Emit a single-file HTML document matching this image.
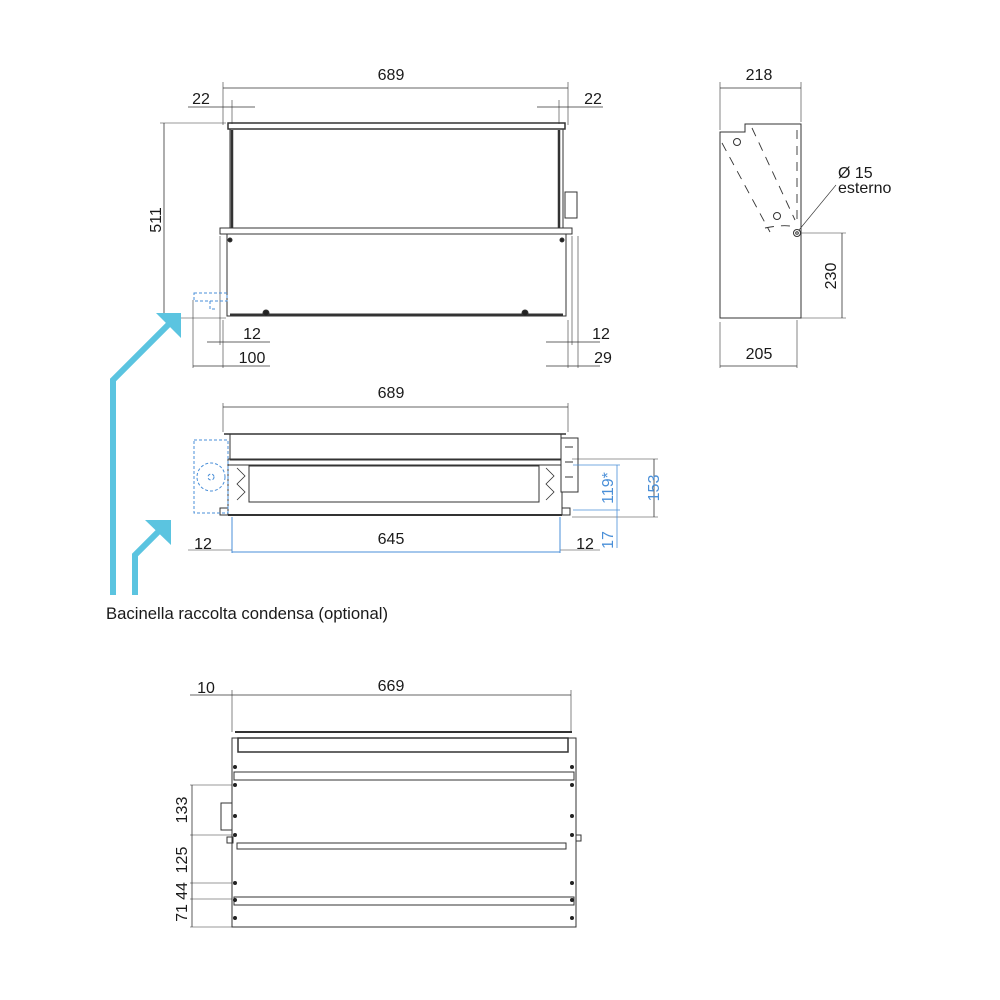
<!DOCTYPE html>
<html><head><meta charset="utf-8"><style>
html,body{margin:0;padding:0;background:#fff}
svg{display:block}
text{font-family:"Liberation Sans",Arial,sans-serif;fill:#1a1a1a}
</style></head><body>
<svg width="1000" height="1000" viewBox="0 0 1000 1000" xmlns="http://www.w3.org/2000/svg">
<g stroke="#333" fill="none" stroke-width="1">
<!-- FRONT VIEW -->
<line x1="223" y1="88" x2="568" y2="88" stroke-width="0.8"/>
<line x1="223" y1="82" x2="223" y2="125" stroke-width="0.6"/>
<line x1="568" y1="82" x2="568" y2="125" stroke-width="0.6"/>
<line x1="188" y1="107" x2="255" y2="107" stroke-width="0.8"/>
<line x1="537" y1="107" x2="603" y2="107" stroke-width="0.8"/>
<line x1="232" y1="100" x2="232" y2="124" stroke-width="0.6"/>
<line x1="559" y1="100" x2="559" y2="124" stroke-width="0.6"/>
<rect x="228" y="123" width="337" height="6" stroke-width="1.5"/>
<rect x="230" y="129" width="333" height="100"/>
<line x1="232" y1="130" x2="232" y2="228" stroke-width="2.5"/>
<line x1="559" y1="130" x2="559" y2="228" stroke-width="2.5"/>
<rect x="220" y="228" width="352" height="6" fill="#fff"/>
<rect x="227" y="234" width="339" height="82"/>
<line x1="230" y1="315" x2="563" y2="315" stroke-width="3"/>
<rect x="565" y="192" width="12" height="26"/>
<circle cx="266" cy="313" r="3" fill="#222"/>
<circle cx="525" cy="313" r="3" fill="#222"/>
<circle cx="230" cy="240" r="2" fill="#222"/>
<circle cx="562" cy="240" r="2" fill="#222"/>
<line x1="164" y1="123" x2="164" y2="316" stroke-width="0.8"/>
<line x1="160" y1="123" x2="226" y2="123" stroke-width="0.6"/>
<line x1="180" y1="318" x2="226" y2="318" stroke-width="0.6"/>
<line x1="193" y1="300" x2="193" y2="368" stroke-width="0.6"/>
<line x1="220" y1="236" x2="220" y2="345" stroke-width="0.6"/>
<line x1="223" y1="320" x2="223" y2="368" stroke-width="0.6"/>
<line x1="207" y1="342" x2="270" y2="342" stroke-width="0.8"/>
<line x1="193" y1="366" x2="270" y2="366" stroke-width="0.8"/>
<line x1="568" y1="320" x2="568" y2="368" stroke-width="0.6"/>
<line x1="572" y1="236" x2="572" y2="345" stroke-width="0.6"/>
<line x1="578" y1="236" x2="578" y2="368" stroke-width="0.6"/>
<line x1="546" y1="342" x2="600" y2="342" stroke-width="0.8"/>
<line x1="546" y1="366" x2="600" y2="366" stroke-width="0.8"/>
<g stroke="#4a8fd8" stroke-dasharray="3,2"><rect x="194" y="293" width="33" height="8"/><path d="M210 301 v8 h6"/></g>

<!-- SIDE VIEW -->
<line x1="720" y1="88" x2="801" y2="88" stroke-width="0.8"/>
<line x1="720" y1="82" x2="720" y2="130" stroke-width="0.6"/>
<line x1="801" y1="82" x2="801" y2="122" stroke-width="0.6"/>
<path d="M720 132 H745 V124 H801 V318 H720 Z"/>
<g stroke-dasharray="9,7" stroke-width="0.9">
<path d="M722 143 L770 232"/><path d="M752 128 L795 220"/><path d="M797 130 V225"/><path d="M765 228 Q785 224 795 227"/>
</g>
<circle cx="737" cy="142" r="3.5"/><circle cx="777" cy="216" r="3.5"/>
<circle cx="797" cy="233" r="3.5"/><circle cx="797" cy="233" r="1.3"/>
<line x1="799" y1="230" x2="836" y2="185" stroke-width="0.6"/>
<line x1="800" y1="233" x2="846" y2="233" stroke-width="0.6"/>
<line x1="800" y1="318" x2="846" y2="318" stroke-width="0.6"/>
<line x1="842" y1="233" x2="842" y2="318" stroke-width="0.8"/>
<line x1="720" y1="322" x2="720" y2="368" stroke-width="0.6"/>
<line x1="797" y1="320" x2="797" y2="368" stroke-width="0.6"/>
<line x1="720" y1="366" x2="797" y2="366" stroke-width="0.8"/>

<!-- PLAN VIEW -->
<line x1="223" y1="407" x2="568" y2="407" stroke-width="0.8"/>
<line x1="223" y1="403" x2="223" y2="432" stroke-width="0.6"/>
<line x1="568" y1="403" x2="568" y2="432" stroke-width="0.6"/>
<line x1="224" y1="434" x2="566" y2="434" stroke-width="1.5"/>
<rect x="230" y="434" width="331" height="26"/>
<rect x="228" y="459" width="334" height="6"/>
<rect x="228" y="465" width="334" height="50"/>
<rect x="249" y="466" width="290" height="36"/>
<line x1="228" y1="515" x2="562" y2="515" stroke-width="2"/>
<rect x="561" y="438" width="17" height="54" fill="#fff"/>
<path d="M565 447 h8 M565 462 h8 M565 477 h8"/>
<rect x="220" y="508" width="8" height="7"/><rect x="562" y="508" width="8" height="7"/>
<g stroke-width="0.8"><path d="M237 468 l8 8 l-8 8 l8 8 l-8 8 M546 468 l8 8 l-8 8 l8 8 l-8 8"/></g>
<g stroke="#4a8fd8" stroke-dasharray="3,2"><rect x="194" y="440" width="34" height="73"/><circle cx="211" cy="477" r="14"/><circle cx="211" cy="477" r="3"/></g>
<line x1="188" y1="550" x2="232" y2="550" stroke-width="0.6"/>
<line x1="560" y1="550" x2="600" y2="550" stroke-width="0.6"/>
<line x1="232" y1="517" x2="232" y2="553" stroke="#4a8fd8"/>
<line x1="560" y1="517" x2="560" y2="553" stroke="#4a8fd8"/>
<line x1="232" y1="552" x2="560" y2="552" stroke="#4a8fd8"/>
<line x1="572" y1="459" x2="658" y2="459" stroke-width="0.6"/>
<line x1="572" y1="517" x2="658" y2="517" stroke-width="0.6"/>
<line x1="573" y1="465" x2="620" y2="465" stroke="#4a8fd8" stroke-width="0.8"/>
<line x1="573" y1="510" x2="620" y2="510" stroke="#4a8fd8" stroke-width="0.8"/>
<line x1="654" y1="459" x2="654" y2="517" stroke-width="0.8"/>
<line x1="617" y1="465" x2="617" y2="548" stroke="#4a8fd8" stroke-width="0.8"/>

<!-- BOTTOM VIEW -->
<line x1="190" y1="695" x2="571" y2="695" stroke-width="0.8"/>
<line x1="232" y1="690" x2="232" y2="732" stroke-width="0.6"/>
<line x1="571" y1="690" x2="571" y2="732" stroke-width="0.6"/>
<line x1="235" y1="732" x2="572" y2="732" stroke-width="2"/>
<rect x="232" y="738" width="344" height="189"/>
<rect x="238" y="738" width="330" height="14" stroke-width="1.5"/>
<rect x="234" y="772" width="340" height="8"/>
<rect x="237" y="843" width="329" height="6"/>
<rect x="234" y="897" width="340" height="8"/>
<rect x="221" y="803" width="11" height="27"/>
<rect x="227" y="837" width="6" height="6"/><rect x="576" y="835" width="5" height="6"/>
<g fill="#222" stroke="none">
<circle cx="235" cy="767" r="2"/><circle cx="572" cy="767" r="2"/>
<circle cx="235" cy="785" r="2"/><circle cx="572" cy="785" r="2"/>
<circle cx="235" cy="816" r="2"/><circle cx="572" cy="816" r="2"/>
<circle cx="235" cy="835" r="2"/><circle cx="572" cy="835" r="2"/>
<circle cx="235" cy="883" r="2"/><circle cx="572" cy="883" r="2"/>
<circle cx="235" cy="900" r="2"/><circle cx="572" cy="900" r="2"/>
<circle cx="235" cy="918" r="2"/><circle cx="572" cy="918" r="2"/>
</g>
<line x1="192" y1="785" x2="192" y2="927" stroke-width="0.8"/>
<line x1="190" y1="785" x2="232" y2="785" stroke-width="0.6"/>
<line x1="190" y1="835" x2="232" y2="835" stroke-width="0.6"/>
<line x1="190" y1="883" x2="232" y2="883" stroke-width="0.6"/>
<line x1="190" y1="899" x2="232" y2="899" stroke-width="0.6"/>
<line x1="190" y1="927" x2="232" y2="927" stroke-width="0.6"/>
</g>

<!-- blue arrows -->
<g stroke="#5bc4e0" stroke-width="6" fill="none">
<polyline points="113,595 113,380 170,323"/>
<polyline points="135,595 135,555 162,528"/>
</g>
<g fill="#5bc4e0">
<polygon points="156,313 181,313 181,338"/>
<polygon points="145,520 171,520 171,545"/>
</g>

<!-- TEXT -->
<g font-size="16" text-anchor="middle">
<text x="391" y="80">689</text>
<text x="201" y="104">22</text>
<text x="593" y="104">22</text>
<text transform="translate(161,220) rotate(-90)">511</text>
<text x="252" y="339">12</text>
<text x="252" y="363">100</text>
<text x="601" y="339">12</text>
<text x="603" y="363">29</text>
<text x="759" y="80">218</text>
<text x="759" y="359">205</text>
<text transform="translate(836,276) rotate(-90)">230</text>
<text x="391" y="398">689</text>
<text x="391" y="544">645</text>
<text x="203" y="549">12</text>
<text x="585" y="549">12</text>
<text transform="translate(659,488) rotate(-90)" style="fill:#4a8fd8">153</text>
<text transform="translate(613,488) rotate(-90)" style="fill:#4a8fd8">119*</text>
<text transform="translate(613,540) rotate(-90)" style="fill:#4a8fd8">17</text>
<text x="391" y="691">669</text>
<text x="206" y="693">10</text>
<text transform="translate(187,810) rotate(-90)">133</text>
<text transform="translate(187,860) rotate(-90)">125</text>
<text transform="translate(187,891) rotate(-90)">44</text>
<text transform="translate(187,913) rotate(-90)">71</text>
</g>
<g font-size="16">
<text x="838" y="178">Ø 15</text>
<text x="838" y="193">esterno</text>
<text x="106" y="619" font-size="16.7">Bacinella raccolta condensa (optional)</text>
</g>
</svg>
</body></html>
